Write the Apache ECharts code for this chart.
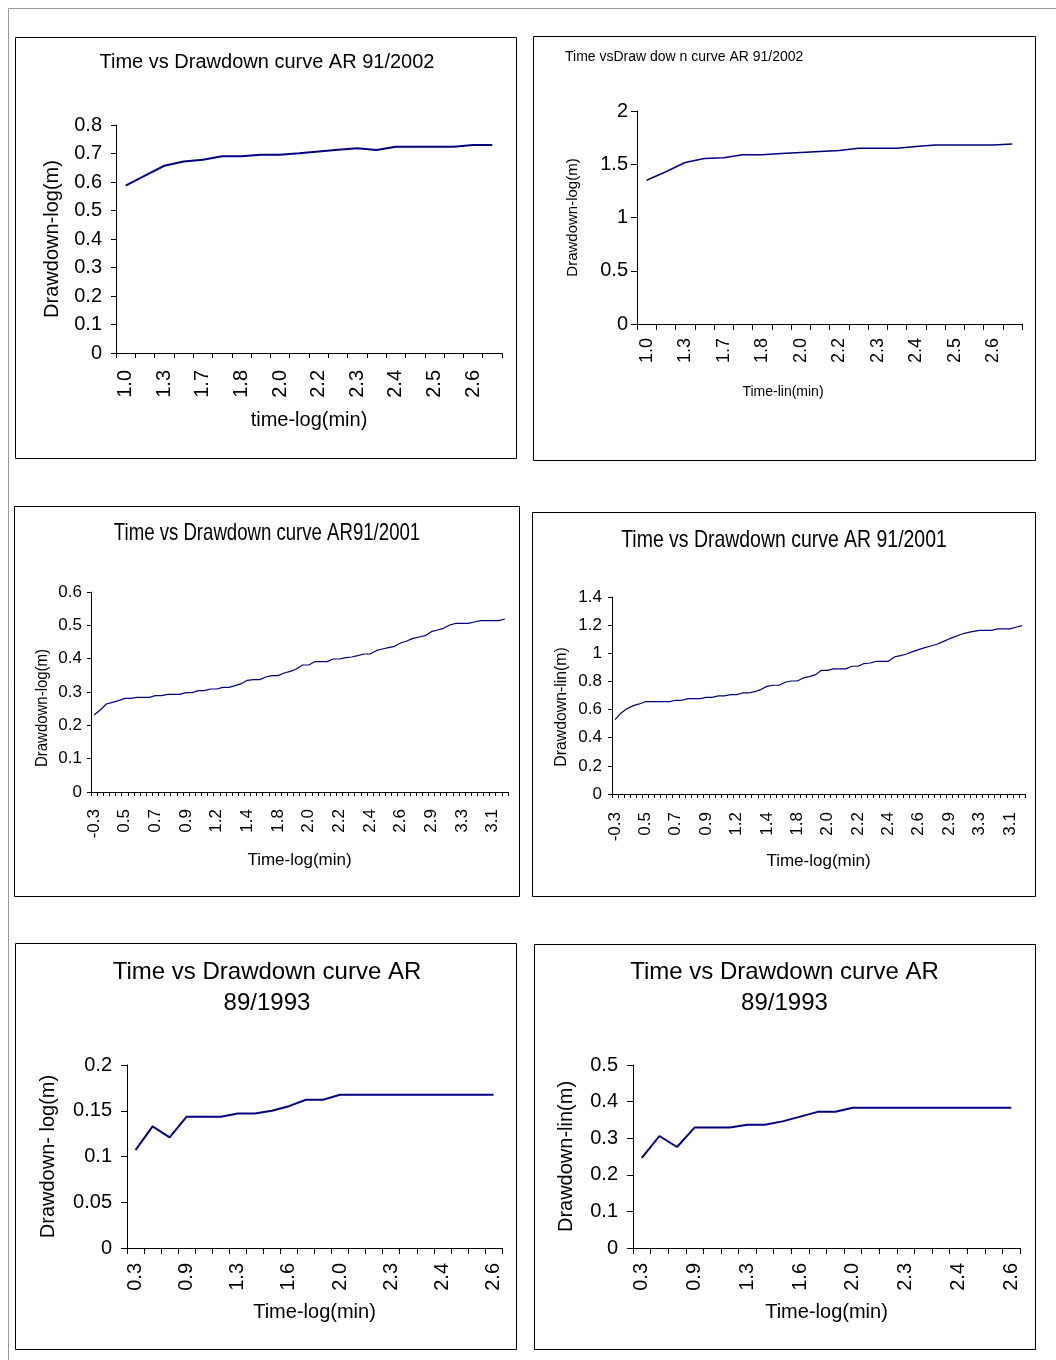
<!DOCTYPE html>
<html><head><meta charset="utf-8">
<script src="https://cdn.jsdelivr.net/npm/echarts@6/dist/echarts.min.js"></script>
<style>html,body{margin:0;padding:0;background:#fff}#c{width:1056px;height:1360px}</style>
</head><body><div id="c"></div>
<script>
const FONT = '"Liberation Sans", Arial, sans-serif';
const LINE = '#000080';

// ---- AR 91/2002 (panels 1, 2) ----
const cats2002 = ['1.0','1.18','1.3','1.48','1.7','1.74','1.8','1.85','2.0','2.08','2.2','2.26','2.3','2.36','2.4','2.45','2.5','2.56','2.6','2.65'];
const ddLog2002 = [0.587,0.622,0.657,0.672,0.678,0.690,0.690,0.696,0.696,0.701,0.707,0.713,0.718,0.712,0.724,0.724,0.724,0.724,0.730,0.730];
const ddLin2002 = [1.35,1.43,1.516,1.553,1.56,1.59,1.59,1.60,1.61,1.62,1.63,1.65,1.65,1.65,1.666,1.68,1.68,1.68,1.68,1.69];

// ---- AR 91/2001 (panels 3, 4) ----
const cats2001 = ['-0.3','0.00','0.18','0.30','0.40',
  '0.5','0.54','0.60','0.63','0.67',
  '0.7','0.74','0.78','0.81','0.85',
  '0.9','0.95','1.00','1.08','1.15',
  '1.2','1.26','1.30','1.34','1.38',
  '1.4','1.48','1.56','1.64','1.72',
  '1.8','1.84','1.88','1.92','1.96',
  '2.0','2.04','2.08','2.12','2.16',
  '2.2','2.24','2.28','2.32','2.36',
  '2.4','2.44','2.48','2.52','2.56',
  '2.6','2.66','2.72','2.78','2.84',
  '2.9','2.98','3.06','3.14','3.22',
  '3.3','3.28','3.24','3.20','3.16',
  '3.1','3.08','3.05'];
const ddLog2001 = [0.231,0.246,0.264,0.269,0.274,0.281,0.281,0.284,0.284,0.284,
  0.289,0.289,0.293,0.293,0.293,0.298,0.298,0.304,0.304,0.309,
  0.309,0.314,0.314,0.319,0.325,0.335,0.337,0.337,0.345,0.349,
  0.349,0.357,0.362,0.369,0.381,0.381,0.391,0.391,0.391,0.399,
  0.399,0.403,0.405,0.409,0.414,0.414,0.424,0.429,0.433,0.437,
  0.447,0.453,0.461,0.465,0.469,0.481,0.486,0.491,0.501,0.506,
  0.506,0.506,0.510,0.514,0.514,0.514,0.514,0.519];
const ddLin2001 = [0.528,0.576,0.607,0.628,0.640,0.656,0.656,0.656,0.656,0.656,
  0.666,0.666,0.678,0.678,0.678,0.687,0.687,0.697,0.697,0.706,
  0.706,0.718,0.718,0.727,0.742,0.765,0.773,0.773,0.794,0.803,
  0.803,0.825,0.834,0.848,0.879,0.879,0.889,0.889,0.889,0.908,
  0.908,0.927,0.931,0.943,0.943,0.943,0.974,0.983,0.995,1.012,
  1.026,1.040,1.052,1.064,1.083,1.102,1.118,1.135,1.147,1.156,
  1.163,1.163,1.163,1.173,1.173,1.173,1.185,1.197];

// ---- AR 89/1993 (panels 5, 6) ----
const cats1993 = ['0.3','0.6','0.78','0.9','1.0','1.18','1.3','1.4','1.48','1.6','1.7','1.85','2.0','2.08','2.18','2.3','2.34','2.38','2.4','2.45','2.52','2.6'];
const ddLog1993 = [0.107,0.133,0.121,0.1435,0.1435,0.1435,0.147,0.147,0.150,0.155,0.162,0.162,0.1675,0.1675,0.1675,0.1675,0.1675,0.1675,0.1675,0.1675,0.1675,0.1675];
const ddLin1993 = [0.246,0.306,0.276,0.329,0.329,0.329,0.337,0.337,0.346,0.359,0.372,0.372,0.383,0.383,0.383,0.383,0.383,0.383,0.383,0.383,0.383,0.383];

const panels = [
  {grid:{left:116,top:125,width:386,height:228}, cats:cats2002, data:ddLog2002, max:0.8, interval:0.1,
   yfs:20, xfs:20, lw:2, tick:5, yLM:14, xLM:17, li:1,
   xName:'time-log(min)', xNameGap:57, xNfs:20, yName:'Drawdown-log(m)', yNameGap:54, yNfs:20},
  {grid:{left:637,top:111,width:385,height:213}, cats:cats2002, data:ddLin2002, max:2, interval:0.5,
   yfs:20, xfs:18, lw:1.5, tick:6, yLM:9, xLM:14, li:1,
   xName:'', yName:'Drawdown-log(m)', yNameGap:57, yNfs:15},
  {grid:{left:91,top:592,width:417,height:200}, cats:cats2001, data:ddLog2001, max:0.6, interval:0.1,
   yfs:17, xfs:17, lw:1.2, tick:4, yLM:9, xLM:17, li:4,
   xName:'Time-log(min)', xNameGap:60, xNfs:17, yName:''},
  {grid:{left:612,top:597,width:413,height:197}, cats:cats2001, data:ddLin2001, max:1.4, interval:0.2,
   yfs:17, xfs:17, lw:1.2, tick:4, yLM:10, xLM:18, li:4,
   xName:'Time-log(min)', xNameGap:59, xNfs:17, yName:''},
  {grid:{left:127,top:1065,width:375,height:183}, cats:cats1993, data:ddLog1993, max:0.2, interval:0.05,
   yfs:20, xfs:20, lw:2, tick:6, yLM:15, xLM:15, li:2,
   xName:'Time-log(min)', xNameGap:54, xNfs:20, yName:'Drawdown- log(m)', yNameGap:69, yNfs:20},
  {grid:{left:633,top:1065,width:387,height:183}, cats:cats1993, data:ddLin1993, max:0.5, interval:0.1,
   yfs:20, xfs:20, lw:2, tick:6, yLM:15, xLM:15, li:2,
   xName:'Time-log(min)', xNameGap:54, xNfs:20, yName:'Drawdown-lin(m)', yNameGap:57, yNfs:20}
];

const grids = [], xAxes = [], yAxes = [], series = [];
panels.forEach((p, i) => {
  grids.push(Object.assign({containLabel:false}, p.grid));
  xAxes.push({
    type:'category', gridIndex:i, data:p.cats, boundaryGap:true,
    axisLine:{show:true, lineStyle:{color:'#000', width:1}},
    axisTick:{show:true, interval:0, length:p.tick, lineStyle:{color:'#000', width:1}},
    axisLabel:{interval:p.li, rotate:90, margin:p.xLM, color:'#000', fontSize:p.xfs, fontFamily:FONT, hideOverlap:false},
    splitLine:{show:false},
    name:p.xName, nameLocation:'middle', nameGap:p.xNameGap||0,
    nameTextStyle:{color:'#000', fontSize:p.xNfs||14, fontFamily:FONT}
  });
  yAxes.push({
    type:'value', gridIndex:i, min:0, max:p.max, interval:p.interval,
    axisLine:{show:true, lineStyle:{color:'#000', width:1}},
    axisTick:{show:true, length:p.tick, lineStyle:{color:'#000', width:1}},
    axisLabel:{margin:p.yLM, color:'#000', fontSize:p.yfs, fontFamily:FONT},
    splitLine:{show:false},
    name:p.yName, nameLocation:'middle', nameGap:p.yNameGap||0,
    nameTextStyle:{color:'#000', fontSize:p.yNfs||14, fontFamily:FONT}
  });
  series.push({
    type:'line', xAxisIndex:i, yAxisIndex:i, data:p.data, symbol:'none', showSymbol:false,
    lineStyle:{color:LINE, width:p.lw}, itemStyle:{color:LINE}, silent:true
  });
});

function box(x, y, w, h) {
  return {type:'rect', silent:true, shape:{x:x+0.5, y:y+0.5, width:w, height:h},
    style:{fill:'none', stroke:'#000', lineWidth:1}};
}
function txt(text, x, y, size, opts, align) {
  return Object.assign({type:'text', silent:true, x:x, y:y,
    style:{text:text, fill:'#000', font:size + 'px ' + FONT, align:align || 'center', verticalAlign:'middle'}}, opts || {});
}

const graphics = [
  {type:'line', silent:true, shape:{x1:8.5, y1:8.5, x2:1056, y2:8.5}, style:{stroke:'#999', lineWidth:1}},
  {type:'line', silent:true, shape:{x1:8.5, y1:8.5, x2:8.5, y2:1360}, style:{stroke:'#999', lineWidth:1}},
  box(15, 37, 501, 421),
  box(533, 36, 502, 424),
  box(14, 506, 505, 390),
  box(532, 512, 503, 384),
  box(15, 943, 501, 406),
  box(534, 944, 501, 405),
  // titles
  txt('Time vs Drawdown curve AR 91/2002', 267, 62, 20),
  txt('Time vsDraw dow n curve AR 91/2002', 565, 57, 14, null, 'left'),
  txt('Time vs Drawdown curve AR91/2001', 267, 533, 24, {scaleX:0.775}),
  txt('Time vs Drawdown curve AR 91/2001', 784, 540, 24, {scaleX:0.81}),
  txt('Time vs Drawdown curve AR', 267, 972, 24),
  txt('89/1993', 267, 1003, 24),
  txt('Time vs Drawdown curve AR', 784.5, 972, 24),
  txt('89/1993', 784.5, 1003, 24),
  // off-centre axis names
  txt('Time-lin(min)', 783, 392, 14),
  txt('Drawdown-log(m)', 42.5, 708, 17, {rotation:Math.PI/2, scaleX:0.88}),
  txt('Drawdown-lin(m)', 561, 707, 17, {rotation:Math.PI/2, scaleX:0.93})
];

const chart = echarts.init(document.getElementById('c'), null, {renderer:'canvas'});
chart.setOption({
  animation:false,
  backgroundColor:'#fff',
  grid:grids, xAxis:xAxes, yAxis:yAxes, series:series,
  graphic:graphics
});
</script></body></html>
